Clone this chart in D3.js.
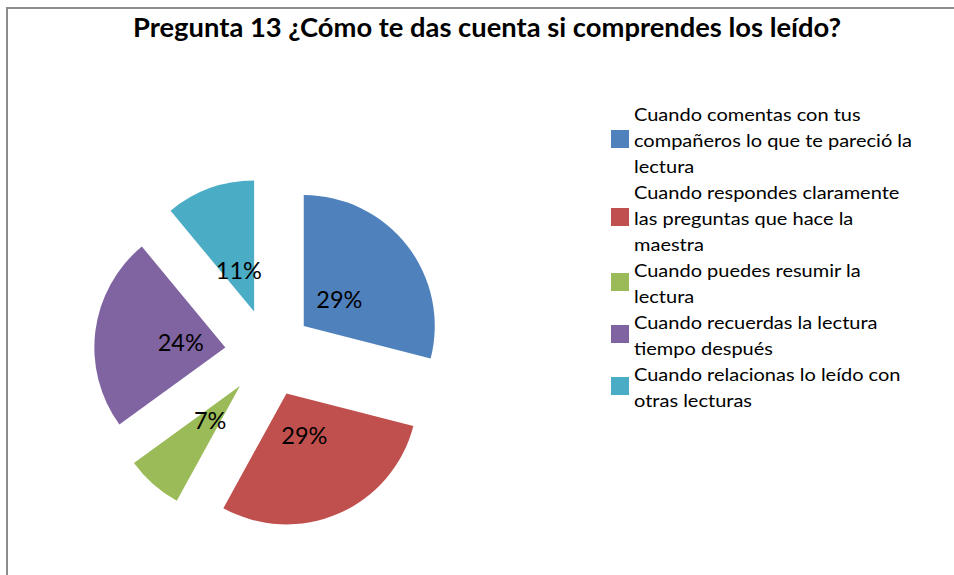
<!DOCTYPE html>
<html>
<head>
<meta charset="utf-8">
<script src="https://cdn.jsdelivr.net/npm/d3@7"></script>
<style>
  html, body { margin: 0; padding: 0; background: #fff; }
  svg { display: block; }
</style>
</head>
<body>
<svg id="chart" width="954" height="575"></svg>
<script>
const title = "Pregunta 13 ¿Cómo te das cuenta si comprendes los leído?";
const categories = [
  "Cuando comentas con tus compañeros lo que te pareció la lectura",
  "Cuando respondes claramente las preguntas que hace la maestra",
  "Cuando puedes resumir la lectura",
  "Cuando recuerdas la lectura tiempo después",
  "Cuando relacionas lo leído con otras lecturas"
];
const legendLines = [
  ["Cuando comentas con tus", "compañeros lo que te pareció la", "lectura"],
  ["Cuando respondes claramente", "las preguntas que hace la", "maestra"],
  ["Cuando puedes resumir la", "lectura"],
  ["Cuando recuerdas la lectura", "tiempo después"],
  ["Cuando relacionas lo leído con", "otras lecturas"]
];
const values = [29, 29, 7, 24, 11];
const colors = ["#4F81BD", "#C0504D", "#9BBB59", "#8064A2", "#4BACC6"];

const svg = d3.select("#chart");
const W = 954, H = 575;
const FONT = "Lato, 'Open Sans', 'Liberation Sans', sans-serif";

// frame
svg.append("rect").attr("x", 7).attr("y", 8).attr("width", W + 20).attr("height", H + 20)
  .attr("fill", "#fff").attr("stroke", "#8c8c8c").attr("stroke-width", 2);

// title
svg.append("text")
  .attr("x", 133).attr("y", 37)
  .attr("font-family", FONT).attr("font-weight", "bold").attr("font-size", 26)
  .attr("fill", "#000")
  .attr("textLength", 708).attr("lengthAdjust", "spacingAndGlyphs")
  .text(title);

// pie
const cx = 269, cy = 353, R = 131, explode = 44;
const total = d3.sum(values);
const pie = d3.pie().sort(null).value(d => d)(values);
const arc = d3.arc().innerRadius(0).outerRadius(R);
const labelArc = d3.arc().innerRadius(0).outerRadius(90);
const pct = d3.format(".0%");

const g = svg.append("g").attr("transform", `translate(${cx},${cy})`);
const slices = g.selectAll("g.slice").data(pie).join("g")
  .attr("class", "slice")
  .attr("transform", d => {
    const a = (d.startAngle + d.endAngle) / 2;
    return `translate(${explode * Math.sin(a)},${-explode * Math.cos(a)})`;
  });
slices.append("path").attr("d", arc).attr("fill", (d, i) => colors[i]);

slices.append("text")
  .attr("class", "lbl")
  .attr("transform", d => `translate(${labelArc.centroid(d)})`)
  .attr("text-anchor", "middle").attr("dy", "0.4em")
  .attr("font-family", FONT).attr("font-size", 23.5).attr("fill", "#000")
  .text(d => pct(d.data / total));

// legend
const lx = 611, tx = 634, firstBase = 121, lh = 26, sq = 18;
const lg = svg.append("g");
let line = 0;
const texts = [];
legendLines.forEach((lines, i) => {
  const start = line;
  lines.forEach((t, j) => {
    const el = lg.append("text")
      .attr("x", tx).attr("y", firstBase + (line) * lh)
      .attr("font-family", FONT).attr("font-size", 17.5).attr("fill", "#000")
      .text(t);
    texts.push(el);
    line++;
  });
  const firstC = firstBase + start * lh - 8;
  const lastC = firstBase + (line - 1) * lh - 8;
  const c = (firstC + lastC) / 2;
  lg.append("rect").attr("x", lx).attr("y", c - sq / 2).attr("width", sq).attr("height", sq)
    .attr("fill", colors[i]);
});
// widen legend text uniformly so the longest line matches the reference width
const longest = d3.max(texts, t => t.node().getComputedTextLength());
const k = 278 / longest;
texts.forEach(t => {
  const w = t.node().getComputedTextLength();
  t.attr("textLength", w * k).attr("lengthAdjust", "spacingAndGlyphs");
});
</script>
</body>
</html>
